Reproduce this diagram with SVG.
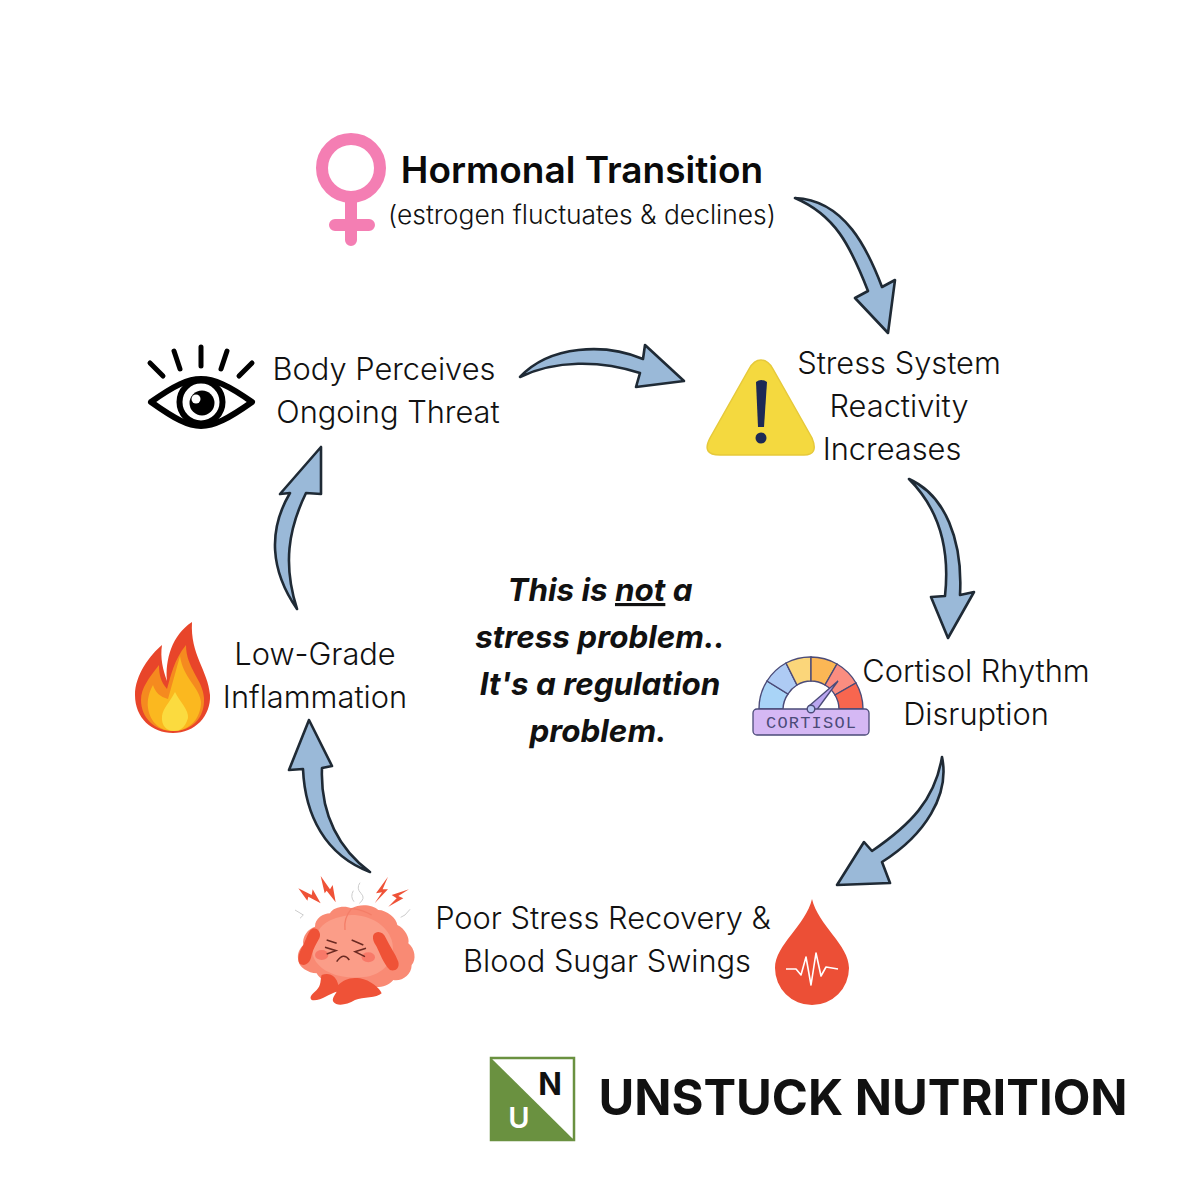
<svg xmlns="http://www.w3.org/2000/svg" width="1200" height="1200" viewBox="0 0 1200 1200">
<style>
text{font-family:"Inter","Open Sans","Liberation Sans",sans-serif;fill:#111;text-anchor:middle}
.l{font-size:30.8px;font-weight:300}
.h{font-size:37px;font-weight:600;fill:#0a0a0a}
.s{font-size:26.4px;font-weight:300}
.c{font-size:31.4px;font-weight:700;font-style:italic}
.a{fill:#9ab9d8;stroke:#1f2a35;stroke-width:2.6;stroke-linejoin:round}
</style>
<rect width="1200" height="1200" fill="#fff"/>
<g id="connectors">
<path class="a" d="M795 198C845 200 868 250 882 287L895 280L888 333L855 298L868 291C850 245 835 215 795 198Z"/>
<path class="a" d="M520 377C550 345 605 343 643 359L645 345L684 381L636 387L640 373C600 360 555 360 520 377Z"/>
<path class="a" d="M909 479C945 495 963 540 960 595L974 592L948 638L931 597L945 596C950 550 940 510 909 479Z"/>
<path class="a" d="M942 757C950 795 925 835 882 862L890 883L837 885L864 842L872 851C910 825 935 800 942 757Z"/>
<path class="a" d="M370 872C340 850 320 815 322 768L332 766L309 720L289 770L303 769C305 815 325 855 370 872Z"/>
<path class="a" d="M297 609C270 570 268 530 290 493L280 494L321 447L321 494L306 493C288 530 283 565 297 609Z"/>
</g>
<g id="node-hormonal">
<g fill="none" stroke="#f47eb3" stroke-width="12"><circle cx="351" cy="168" r="29"/><path d="M351 197V240M335 225H369" stroke-linecap="round"/></g>
<text class="h" x="582" y="183">Hormonal Transition</text>
<text class="s" x="582" y="224">(estrogen fluctuates &amp; declines)</text>
</g>
<g id="node-stress">
<path d="M761 360Q768 360 773 369L812 438Q819 455 804 455H720Q701 455 710 438L749 369Q754 360 761 360Z" fill="#f4d93f" stroke="#e6c93a" stroke-width="1.5"/>
<path d="M756 382Q761 378 767 382L764 427H758Z" fill="#1d2a55"/><circle cx="761" cy="438" r="5.5" fill="#1d2a55"/>
<text class="l" x="899" y="374">Stress System</text>
<text class="l" x="899" y="417">Reactivity</text>
<text class="l" x="892" y="460">Increases</text>
</g>
<g id="node-cortisol">
<g stroke="#4b4b78" stroke-width="1.4">
<path d="M759 709A52 52 0 0 1 767 681L788 694A28 28 0 0 0 783 709Z" fill="#a9d4f7"/>
<path d="M767 681A52 52 0 0 1 786 663L797 685A28 28 0 0 0 788 694Z" fill="#aecbf4"/>
<path d="M786 663A52 52 0 0 1 811 657V681A28 28 0 0 0 797 685Z" fill="#fbd67a"/>
<path d="M811 657A52 52 0 0 1 837 664L825 685A28 28 0 0 0 811 681Z" fill="#fbb755"/>
<path d="M837 664A52 52 0 0 1 856 683L835 695A28 28 0 0 0 825 685Z" fill="#fb8d80"/>
<path d="M856 683A52 52 0 0 1 863 709H839A28 28 0 0 0 835 695Z" fill="#f8664f"/>
</g>
<path d="M809 706L838 681L816 711Z" fill="#b9a6f0" stroke="#4b4b78" stroke-width="1.4"/>
<rect x="753" y="709" width="116" height="26" rx="4" fill="#d5b8f4" stroke="#4b4b78" stroke-width="1.3"/>
<circle cx="811" cy="709" r="3.8" fill="#b9c8f5" stroke="#4b4b78" stroke-width="1.4"/>
<text x="811" y="728" textLength="90" style="font-family:'Liberation Mono',monospace;font-size:17px;fill:#4b4b78">CORTISOL</text>
<text class="l" x="976" y="682">Cortisol Rhythm</text>
<text class="l" x="976" y="725">Disruption</text>
</g>
<g id="node-recovery">
<path d="M812 899C818 925 849 945 849 968A37 37 0 0 1 775 968C775 945 806 925 812 899Z" fill="#ec4f36"/>
<path d="M786 969H796L801 975L806 957L811 985L816 953L821 976L826 967L838 969" fill="none" stroke="#fff" stroke-width="1.6" stroke-linejoin="round"/>
<text class="l" x="603" y="929">Poor Stress Recovery &amp;</text>
<text class="l" x="607" y="972">Blood Sugar Swings</text>
</g>
<g id="node-brain" transform="translate(280 860) scale(.3333)">
<path d="M55 300C50 280 60 265 70 255C65 230 85 205 105 200C105 175 130 160 150 160C160 140 195 135 215 145C240 130 280 135 295 150C320 150 350 175 352 195C375 205 390 235 385 250C405 265 410 300 395 315C395 345 365 365 340 360C320 385 280 385 260 375C220 385 130 380 110 340C85 340 55 320 55 300Z" fill="#f98a74"/>
<path d="M110 225C120 190 160 170 215 165C270 165 320 195 335 240C350 290 320 340 260 350C190 360 120 340 100 290C95 270 100 245 110 225Z" fill="#fb9d88"/>
<path d="M215 145Q190 175 195 210M215 145Q250 150 275 165" fill="none" stroke="#f47e68" stroke-width="4"/>
<path d="M100 205C115 205 125 220 118 235C110 250 100 265 95 285C90 315 70 320 58 310C50 295 60 270 70 255C80 235 85 210 100 205ZM280 225C290 210 310 215 318 235C330 260 345 280 355 305C360 325 345 335 330 330C310 310 300 280 290 260C280 245 277 235 280 225Z" fill="#ef5237"/>
<path d="M125 345C150 335 170 350 175 375C190 360 210 350 240 355C270 360 300 385 305 400C290 415 250 410 225 420C200 435 170 440 160 425C155 415 165 405 170 395C150 400 120 425 95 420C85 410 100 400 110 390C125 375 120 360 125 345Z" fill="#ef5237"/>
<ellipse cx="125" cy="285" rx="20" ry="15" fill="#f7695b" opacity=".7"/><ellipse cx="265" cy="292" rx="20" ry="15" fill="#f7695b" opacity=".7"/>
<path d="M140 240L170 250M215 240L250 255M135 262L168 272L140 282M258 265L225 275L255 290M170 305Q190 275 208 300" fill="none" stroke="#6b2a22" stroke-width="4.5"/>
<path d="M55 85L95 105L98 88L122 130L85 110L82 122ZM122 48L150 88L158 75L167 127L140 92L134 100ZM324 50L288 100L306 97L284 130L324 88L308 88ZM387 88L335 105L350 115L325 140L370 115L355 108Z" fill="#ef5237"/>
<path d="M240 68Q228 85 243 100T238 130M220 92Q210 110 222 125M45 150L70 165L60 175M390 148L375 165L362 172" fill="none" stroke="#ccc" stroke-width="3"/>
</g>
<g id="node-inflammation">
<path d="M192 622C172 635 165 660 167 681C163 670 160 658 162 645C150 655 135 675 135 695C135 718 152 733 173 733C195 733 211 716 210 695C208 670 190 655 192 622Z" fill="#e8452a"/>
<path d="M186 645C174 660 171 675 167 689C161 682 159 675 159 665C149 678 141 688 141 700C141 718 155 731 173 731C192 731 205 718 204 698C203 680 186 668 186 645Z" fill="#f58a1f"/>
<path d="M180 656C176 670 172 685 168 699C160 697 155 692 153 685C149 692 147 700 148 708C150 722 160 731 173 731C190 731 201 718 201 702C200 688 183 678 180 656Z" fill="#fbb81f"/>
<path d="M175 692C180 702 189 710 188 718C185 728 180 731 174 731C167 731 161 726 162 716C163 708 170 702 175 692Z" fill="#fbdb3f"/>
<text class="l" x="315" y="665">Low-Grade</text>
<text class="l" x="315" y="708">Inflammation</text>
</g>
<g id="node-threat">
<g fill="none" stroke="#000">
<path d="M151 402C175 385 188 379 201 379C214 379 228 385 252 402C228 419 214 426 201 426C188 426 175 419 151 402Z" stroke-width="6" stroke-linejoin="round"/>
<circle cx="201" cy="402" r="21.5" stroke-width="6"/>
<path d="M150 363L163 376M174 351L180 369M201 347V366M227 351L221 369M252 363L239 376" stroke-width="5" stroke-linecap="round"/>
</g>
<circle cx="202" cy="403" r="12.5" fill="#000"/>
<circle cx="196" cy="399" r="4.5" fill="#fff"/>
<text class="l" x="384" y="380">Body Perceives</text>
<text class="l" x="388" y="423">Ongoing Threat</text>
</g>
<g id="center-text">
<text class="c" x="600" y="601">This is <tspan text-decoration="underline">not</tspan> a</text>
<text class="c" x="600" y="648">stress problem..</text>
<text class="c" x="600" y="695">It's a regulation</text>
<text class="c" x="598" y="742">problem.</text>
</g>
<g id="logo">
<rect x="491" y="1058" width="83" height="82" fill="#fff" stroke="#6a9140" stroke-width="2.5"/>
<path d="M491 1058L574 1140H491Z" fill="#6a9140"/>
<text x="550" y="1095" style="font-size:31px;font-weight:700;fill:#111">N</text>
<text x="519" y="1128" style="font-size:29px;font-weight:600;fill:#fff">U</text>
<text x="863" y="1115" style="font-size:48.9px;font-weight:700;fill:#111">UNSTUCK NUTRITION</text>
</g>
</svg>
